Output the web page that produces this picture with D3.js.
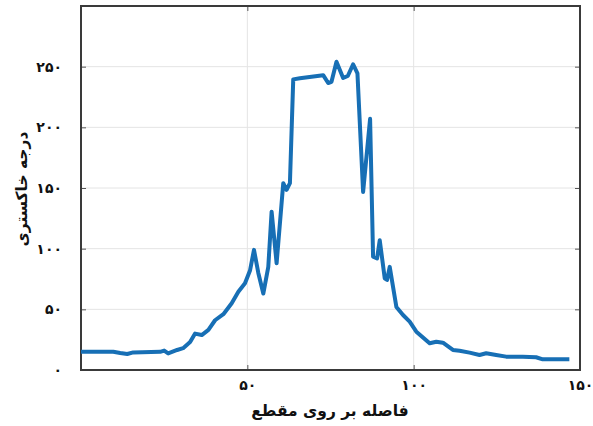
<!DOCTYPE html>
<html>
<head>
<meta charset="utf-8">
<script src="https://cdn.jsdelivr.net/npm/d3@7"></script>
<style>
  body { margin: 0; background: #fff; }
  text { font-family: "DejaVu Sans", sans-serif; font-weight: bold; fill: #111; }
</style>
</head>
<body>
<div class="visHolder"></div>
<script>
// distance along the section (x) and grey level (y)
var distance = [0, 9.7, 11.8, 13.9, 15.7, 23.8, 25, 26.2, 28.9, 30.7, 32.8, 34.3, 36.3, 38.3, 40.3, 42.8,
    45.3, 47.3, 49.3, 50.8, 52, 53.3, 54.8, 56.3, 57.3, 58.8, 60.8, 61.8, 62.8, 63.8, 65.8, 69.3,
    72.8, 74.3, 75.3, 76.8, 78.8, 80.2, 81.8, 83.1, 84.8, 86.9, 87.8, 89, 89.8, 91.3, 92, 92.8,
    94.8, 96.8, 98.8, 100.8, 104.8, 106.8, 108.8, 111.8, 113.8, 116.8, 119.8, 121.8, 124.8,
    127.8, 132.8, 136.8, 138.8, 146.8];
var grey = [15, 15, 14, 13.2, 14.5, 15, 16, 13.7, 16.5, 18, 23, 30, 28.8, 33, 41, 46,
    55, 64.5, 71.5, 82, 99, 80, 63, 85, 130.5, 88, 154, 148.5, 154, 239.5, 240.5, 241.7,
    243, 236.5, 237.5, 254, 240.7, 242.3, 252, 244.5, 146.7, 207, 93.4, 92, 107, 75.6, 74.2, 85,
    52, 45.3, 39.8, 31.6, 22, 23.3, 22.5, 16.5, 15.9, 14.3, 12.4, 13.8, 12.4,
    11, 11, 10.5, 8.8, 8.8];

var xTicks = [50, 100, 150];
var yTicks = [0, 50, 100, 150, 200, 250];
var xTitle = "فاصله بر روی مقطع";
var yTitle = "درجه خاکستری";

var width = 593,
    height = 426,
    plotLeft = 81,
    plotRight = 580,
    plotTop = 6,
    plotBottom = 370;

function fa(n) {
    return String(n).replace(/\d/g, function (c) {
        return "۰۱۲۳۴۵۶۷۸۹"[+c];
    });
}

var svg = d3
    .select(".visHolder")
    .append("svg")
    .attr("width", width)
    .attr("height", height);

var xScale = d3.scaleLinear().domain([0, 150]).range([plotLeft, plotRight]);
var yScale = d3.scaleLinear().domain([0, 300]).range([plotBottom, plotTop]);

// grid
svg.append("g")
    .selectAll("line")
    .data(xTicks.filter(function (d) { return d < 150; }))
    .enter()
    .append("line")
    .attr("x1", function (d) { return xScale(d); })
    .attr("x2", function (d) { return xScale(d); })
    .attr("y1", plotTop)
    .attr("y2", plotBottom)
    .style("stroke", "#e4e4e4")
    .style("stroke-width", 1);

svg.append("g")
    .selectAll("line")
    .data(yTicks.filter(function (d) { return d > 0; }))
    .enter()
    .append("line")
    .attr("x1", plotLeft)
    .attr("x2", plotRight)
    .attr("y1", function (d) { return yScale(d); })
    .attr("y2", function (d) { return yScale(d); })
    .style("stroke", "#e4e4e4")
    .style("stroke-width", 1);

// axes (ticks inward, labels in persian digits)
var xAxis = d3.axisBottom(xScale).tickValues(xTicks).tickSize(-5).tickPadding(10).tickFormat(fa);
var yAxis = d3.axisLeft(yScale).tickValues(yTicks).tickSize(-5).tickPadding(19).tickFormat(fa);

var gx = svg.append("g")
    .attr("transform", "translate(0," + plotBottom + ")")
    .call(xAxis);
var gy = svg.append("g")
    .attr("transform", "translate(" + plotLeft + ",0)")
    .call(yAxis);

[gx, gy].forEach(function (g) {
    g.select(".domain").remove();
    g.selectAll(".tick line").style("stroke", "#555");
    g.selectAll("text")
        .style("font-size", "14px")
        .style("letter-spacing", "-1.5px")
        .style("font-family", "DejaVu Sans");
});

svg.append("g")
    .attr("transform", "translate(" + plotRight + ",0)")
    .call(d3.axisRight(yScale).tickValues(yTicks).tickSize(-5).tickFormat(""))
    .call(function (g) { g.select(".domain").remove(); g.selectAll("line").style("stroke", "#555"); });

svg.append("g")
    .attr("transform", "translate(0," + plotTop + ")")
    .call(d3.axisTop(xScale).tickValues(xTicks).tickSize(-5).tickFormat(""))
    .call(function (g) { g.select(".domain").remove(); g.selectAll("line").style("stroke", "#555"); });

// frame
svg.append("rect")
    .attr("x", plotLeft)
    .attr("y", plotTop)
    .attr("width", plotRight - plotLeft)
    .attr("height", plotBottom - plotTop)
    .style("fill", "none")
    .style("stroke", "#3a3a3a")
    .style("stroke-width", 2);

// profile line
var line = d3.line()
    .x(function (d, i) { return xScale(distance[i]); })
    .y(function (d) { return yScale(d); });

svg.append("path")
    .datum(grey)
    .attr("d", line)
    .style("fill", "none")
    .style("stroke", "#176fb5")
    .style("stroke-width", 4)
    .style("stroke-linejoin", "round");

// titles
svg.append("text")
    .attr("x", 330)
    .attr("y", 416)
    .attr("text-anchor", "middle")
    .style("font-size", "15.5px")
    .text(xTitle);

svg.append("text")
    .attr("transform", "translate(27,189) rotate(-90)")
    .attr("text-anchor", "middle")
    .style("font-size", "15.5px")
    .text(yTitle);
</script>
</body>
</html>
